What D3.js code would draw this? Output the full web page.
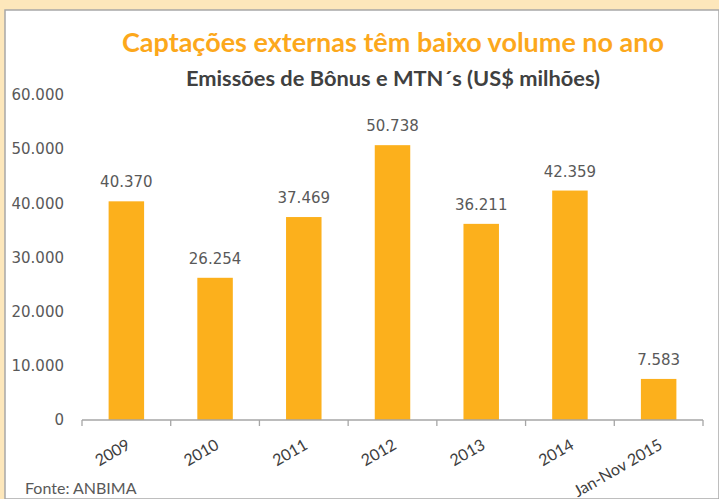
<!DOCTYPE html>
<html>
<head>
<meta charset="utf-8">
<script src="https://cdn.jsdelivr.net/npm/d3@7"></script>
<style>
  body { margin: 0; background: #fff; }
  svg { display: block; }
</style>
</head>
<body>
<svg id="chart" width="719" height="499"></svg>
<script>
// dados
const categories = ['2009', '2010', '2011', '2012', '2013', '2014', 'Jan-Nov 2015']
const values = [40370, 26254, 37469, 50738, 36211, 42359, 7583]
const yTicks = [0, 10000, 20000, 30000, 40000, 50000, 60000]

const svg = d3.select('#chart')
const W = 719
const H = 499

const fmt = d3.formatLocale({ decimal: ',', thousands: '.', grouping: [3], currency: ['R$', ''] }).format(',d')

// moldura
svg.append('rect').attr('width', W).attr('height', H).attr('fill', '#fde7bb')
svg.append('rect').attr('x', 5).attr('y', 10).attr('width', W - 5).attr('height', H - 10)
  .attr('fill', '#fff').attr('stroke', '#a8a8a8').attr('stroke-width', 1.5)

// títulos
svg.append('text')
  .attr('x', 393).attr('y', 52)
  .attr('text-anchor', 'middle')
  .attr('textLength', 542).attr('lengthAdjust', 'spacingAndGlyphs')
  .style('font-family', 'Lato, sans-serif').style('font-weight', 'bold').style('font-size', '26px')
  .attr('fill', '#fca81c')
  .text('Captações externas têm baixo volume no ano')

svg.append('text')
  .attr('x', 393).attr('y', 86)
  .attr('text-anchor', 'middle')
  .attr('textLength', 414).attr('lengthAdjust', 'spacingAndGlyphs')
  .style('font-family', 'Lato, sans-serif').style('font-weight', 'bold').style('font-size', '20px')
  .attr('fill', '#404040')
  .text('Emissões de Bônus e MTN´s (US$ milhões)')

// escalas
const x = d3.scaleBand().domain(categories).range([82, 703]).paddingInner(0.6).paddingOuter(0.3)
const y = d3.scaleLinear().domain([0, 60000]).range([420, 95])

// eixo y (só rótulos)
const gy = svg.append('g').attr('transform', 'translate(64,0)')
  .call(d3.axisLeft(y).tickValues(yTicks).tickSize(0).tickPadding(0).tickFormat(fmt))
gy.select('.domain').remove()
gy.selectAll('text')
  .style('font-family', 'DejaVu Sans, sans-serif').style('font-size', '15px').attr('fill', '#595959')

// barras
svg.append('g').selectAll('rect')
  .data(values)
  .join('rect')
  .attr('x', (d, i) => x(categories[i]))
  .attr('y', d => y(d))
  .attr('width', x.bandwidth())
  .attr('height', d => y(0) - y(d))
  .attr('fill', '#fcb01c')

// rótulos de valor
svg.append('g').selectAll('text')
  .data(values)
  .join('text')
  .attr('x', (d, i) => x(categories[i]) + x.bandwidth() / 2)
  .attr('y', d => y(d) - 14)
  .attr('text-anchor', 'middle')
  .style('font-family', 'DejaVu Sans, sans-serif').style('font-size', '15px')
  .attr('fill', '#595959')
  .text(d => fmt(d))

// eixo x
const xAxis = d3.scalePoint().domain(d3.range(categories.length + 1)).range([82, 703])
const gx = svg.append('g').attr('transform', `translate(0,${y(0)})`)
gx.append('line').attr('x1', 82).attr('x2', 703).attr('stroke', '#a6a6a6').attr('stroke-width', 1.3)
gx.selectAll('line.tick')
  .data(xAxis.domain())
  .join('line')
  .attr('class', 'tick')
  .attr('x1', d => xAxis(d)).attr('x2', d => xAxis(d))
  .attr('y1', 0).attr('y2', 6)
  .attr('stroke', '#a6a6a6').attr('stroke-width', 1.3)

gx.selectAll('text')
  .data(categories)
  .join('text')
  .attr('transform', d => `translate(${x(d) + x.bandwidth() / 2 + 5},${28}) rotate(-30)`)
  .attr('text-anchor', 'end')
  .style('font-family', 'Lato, sans-serif').style('font-size', '16px')
  .attr('fill', '#404040')
  .text(d => d)

// fonte
svg.append('text')
  .attr('x', 25).attr('y', 494)
  .style('font-family', 'Lato, sans-serif').style('font-size', '16px')
  .attr('fill', '#595959')
  .text('Fonte: ANBIMA')
</script>
</body>
</html>
